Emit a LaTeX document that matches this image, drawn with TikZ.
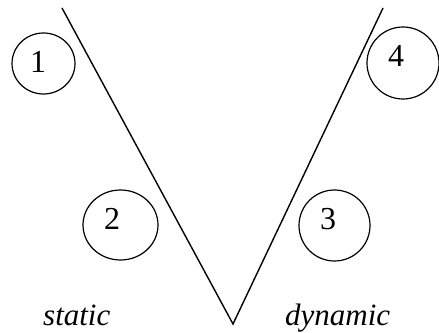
\documentclass[tikz,border=0pt]{standalone}
\usepackage{fontspec}
\setmainfont{Liberation Serif}
\usetikzlibrary{shapes.geometric}
\begin{document}
\begin{tikzpicture}[x=1pt,y=1pt,
  ring/.style={draw,line width=1.2pt,ellipse,inner sep=0pt},
  digit/.style={anchor=base,inner sep=0pt,font=\fontsize{32}{38}\selectfont},
  lbl/.style={anchor=base west,inner sep=0pt,font=\fontsize{31}{37}\selectfont\itshape}]
\useasboundingbox (0,0) rectangle (439,332);
\coordinate (tl) at (62,324);
\coordinate (v) at (233,8);
\coordinate (tr) at (383,324);
\draw[line width=1.4pt] (tl) -- (v) -- (tr);
\node[ring,minimum width=63pt,minimum height=61pt] (c1) at (43.5,268.5) {};
\node[ring,minimum width=75pt,minimum height=70pt] (c2) at (120.5,107) {};
\node[ring,minimum width=71pt,minimum height=71pt] (c3) at (334.5,106.5) {};
\node[ring,minimum width=72pt,minimum height=72pt] (c4) at (403,269) {};
\node[digit] (n1) at (38,259) {1};
\node[digit] (n2) at (112,102) {2};
\node[digit] (n3) at (328,102) {3};
\node[digit] (n4) at (396,265) {4};
\node[lbl] (s) at (43,7) {static};
\node[lbl] (d) at (285,7) {dynamic};
\end{tikzpicture}
\end{document}
